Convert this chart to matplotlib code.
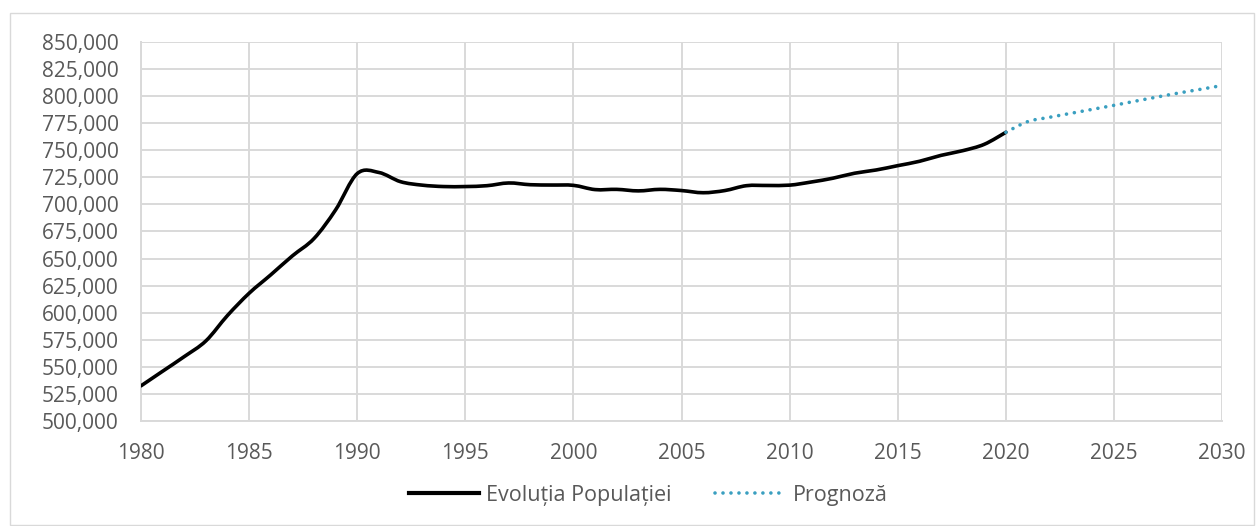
import matplotlib
matplotlib.use("Agg")
import matplotlib.pyplot as plt
from matplotlib.path import Path
from matplotlib.patches import PathPatch, Rectangle
from matplotlib.lines import Line2D
from matplotlib.ticker import FuncFormatter, MultipleLocator

BLACK = "#000000"
TEAL = "#3a9fc0"
GRID = "#d9d9d9"
TEXT = "#595959"

plt.rcParams["font.family"] = ["Open Sans", "DejaVu Sans"]

# populatia anuala 1980-2020
years = list(range(1980, 2021))
population = [
    532500, 546000, 559500, 574000, 597500, 618000, 635000, 652500, 668500, 695000,
    728500, 729500, 721000, 717800, 716500, 716500, 717300, 719800, 718200, 717900,
    717600, 713700, 713900, 712500, 713900, 712800, 710800, 712800, 717300, 717500,
    717800, 720700, 724200, 728800, 731800, 735800, 739800, 745300, 749600, 755500,
    766600,
]

# prognoza 2020-2030
forecast_years = list(range(2020, 2031))
forecast = [766600, 776400, 780400, 784100, 787800, 791500, 795400, 799200, 802900, 806300, 809800]

DOTS = (0, (0.01, 2.2))


def smooth_path(xs, ys):
    # curba Bezier de tip Catmull-Rom prin punctele date
    n = len(xs)
    verts = [(xs[0], ys[0])]
    codes = [Path.MOVETO]
    for i in range(n - 1):
        x0, y0 = (xs[i - 1], ys[i - 1]) if i > 0 else (xs[i], ys[i])
        x1, y1 = xs[i], ys[i]
        x2, y2 = xs[i + 1], ys[i + 1]
        x3, y3 = (xs[i + 2], ys[i + 2]) if i + 2 < n else (x2, y2)
        c1 = (x1 + (x2 - x0) / 6, y1 + (y2 - y0) / 6)
        c2 = (x2 - (x3 - x1) / 6, y2 - (y3 - y1) / 6)
        verts += [c1, c2, (x2, y2)]
        codes += [Path.CURVE4] * 3
    return Path(verts, codes)


fig = plt.figure(figsize=(12.56, 5.26), dpi=100)
ax = fig.add_axes([0.1123, 0.1996, 0.8607, 0.7206])

fig.patches.append(Rectangle((10 / 1256, 0.002), 1244 / 1256, 1 - 13 / 526 - 0.002,
                             transform=fig.transFigure, fill=False, ec=GRID, lw=1.0))

ax.add_patch(PathPatch(smooth_path(years, population), fill=False, ec=BLACK, lw=2.6,
                       capstyle="round", joinstyle="round", zorder=3))
ax.add_patch(PathPatch(smooth_path(forecast_years, forecast), fill=False, ec=TEAL, lw=2.6,
                       linestyle=DOTS, capstyle="round", zorder=4))

ax.set_xlim(1980, 2030)
ax.set_ylim(500000, 850000)
ax.xaxis.set_major_locator(MultipleLocator(5))
ax.yaxis.set_major_locator(MultipleLocator(25000))
ax.yaxis.set_major_formatter(FuncFormatter(lambda v, p: f"{v:,.0f}"))
ax.grid(True, color=GRID, lw=1.4)
ax.set_axisbelow(True)
for side, sp in ax.spines.items():
    sp.set_visible(side in ("left", "bottom"))
    sp.set_color(GRID)
    sp.set_linewidth(1.4)
ax.tick_params(length=0, labelsize=15, labelcolor=TEXT)
ax.tick_params(axis="y", pad=16)
ax.tick_params(axis="x", pad=16)

handles = [
    Line2D([], [], color=BLACK, lw=3),
    Line2D([], [], color=TEAL, lw=2.6, linestyle=DOTS, dash_capstyle="round"),
]
fig.legend(handles, ["Evoluția Populației", "Prognoză"], loc="center",
           bbox_to_anchor=(0.516, 0.058), ncol=2, frameon=False, fontsize=15.5,
           labelcolor=TEXT, handlelength=3.25, handletextpad=0.33, columnspacing=2.05)

fig.savefig("out.png", dpi=100, facecolor="white")
